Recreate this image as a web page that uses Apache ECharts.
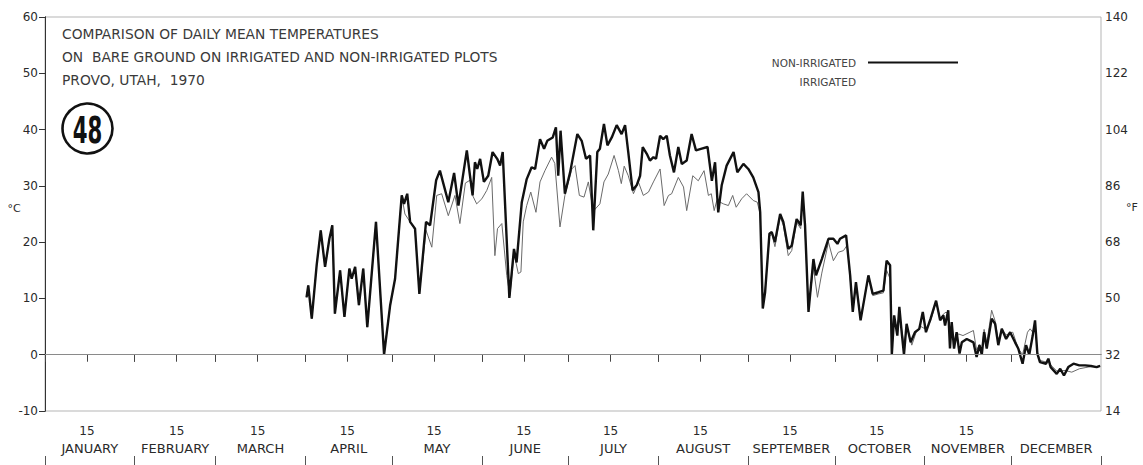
<!DOCTYPE html>
<html>
<head>
<meta charset="utf-8">
<script src="https://cdn.jsdelivr.net/npm/echarts@6/dist/echarts.min.js"></script>
<style>
html,body{margin:0;padding:0;background:#fff;}
#chart{width:1143px;height:465px;}
</style>
</head>
<body>
<div id="chart"></div>
<script>
// ---- categories / tick labels ----
const monthNames = ['JANUARY','FEBRUARY','MARCH','APRIL','MAY','JUNE','JULY','AUGUST','SEPTEMBER','OCTOBER','NOVEMBER','DECEMBER'];
const monthStarts = [0,31,59,90,120,151,181,212,243,273,304,334,365];
const monthMids = [15.5,45,74.5,105,135.5,166,196.5,227.5,258,288.5,319,349.5];
const fifteenths = [14.5,45.5,73.5,104.5,134.5,165.5,195.5,226.5,257.5,287.5,318.5];
const fifteenLabel = '15';
const celsiusTicks = [-10,0,10,20,30,40,50,60];
const fahrenheitLabels = ['14','32','50','68','86','104','122','140'];

// ---- series values: [day of year, °C] ----
const nonIrrigated = [[90.4,10.2],[91.0,12.3],[92.2,6.4],[93.9,15.9],[95.3,22.1],[96.8,15.6],[98.3,20.6],[99.3,23.0],[100.2,7.3],[102.0,15.0],[103.5,6.7],[105.2,15.3],[106.0,13.5],[107.2,15.6],[108.5,8.8],[110.0,15.3],[111.4,4.9],[114.4,23.6],[117.2,0.0],[119.3,8.8],[121.0,13.5],[123.3,28.3],[124.1,26.8],[125.2,28.6],[126.2,23.6],[127.9,22.4],[129.4,10.8],[131.7,23.6],[133.1,23.0],[135.2,31.0],[136.5,32.7],[139.4,27.1],[141.4,32.3],[142.9,26.5],[145.8,36.3],[146.9,31.8],[147.8,28.3],[148.6,34.2],[149.4,33.0],[150.4,34.8],[151.7,30.7],[153.2,31.8],[154.7,36.0],[156.3,34.8],[157.3,33.6],[158.2,36.0],[160.5,10.1],[162.1,18.8],[163.0,16.4],[164.8,27.1],[166.5,31.2],[168.2,33.3],[169.4,33.0],[171.1,38.3],[172.5,36.6],[173.6,38.0],[175.5,38.6],[176.6,40.4],[177.4,31.8],[178.2,39.8],[179.7,28.6],[181.5,32.4],[184.0,39.2],[185.5,38.0],[187.0,34.8],[188.4,35.4],[189.5,22.1],[190.9,36.0],[191.8,36.6],[193.2,41.0],[194.4,37.2],[195.9,38.6],[197.6,40.8],[199.3,39.2],[200.5,40.8],[201.6,36.0],[203.1,29.2],[204.5,30.1],[205.7,31.8],[206.6,36.9],[208.0,35.7],[209.1,34.5],[210.3,35.1],[211.2,34.8],[212.6,38.9],[213.7,38.3],[214.9,38.9],[216.0,35.4],[217.4,32.4],[218.9,36.9],[220.1,33.9],[221.8,34.5],[223.5,39.2],[225.0,36.3],[227.0,36.6],[229.0,36.9],[230.5,30.9],[231.6,34.2],[232.7,25.3],[233.9,30.1],[235.6,33.6],[238.0,36.0],[239.3,32.4],[241.4,33.9],[243.1,33.0],[244.8,31.5],[246.6,28.9],[247.2,25.3],[248.1,8.2],[248.9,11.1],[250.4,21.5],[251.2,21.8],[252.3,20.0],[254.1,25.0],[255.2,23.6],[256.9,18.8],[258.1,19.4],[259.8,24.1],[261.2,23.0],[261.9,29.0],[262.7,23.0],[263.9,7.6],[265.6,17.0],[266.5,14.1],[268.5,17.0],[270.8,20.6],[272.5,20.6],[273.9,19.7],[274.8,20.6],[276.9,21.2],[278.3,14.1],[279.2,7.6],[280.3,12.9],[281.9,6.1],[284.6,14.1],[286.1,10.8],[288.1,11.1],[289.8,11.4],[290.9,16.7],[292.1,15.9],[292.7,0.0],[293.5,7.0],[294.6,3.4],[295.3,8.5],[296.1,4.0],[296.9,0.0],[297.8,5.5],[299.2,2.2],[300.7,4.0],[302.2,4.6],[303.4,7.6],[304.5,4.0],[306.1,6.4],[308.0,9.6],[309.4,6.1],[310.5,7.0],[311.1,5.2],[312.2,7.9],[312.8,1.1],[313.4,5.8],[314.2,1.1],[315.1,4.0],[316.1,0.2],[316.9,2.2],[318.6,2.8],[320.9,2.2],[322.0,-0.4],[323.0,1.7],[323.8,0.0],[324.6,4.0],[325.5,1.1],[327.2,6.4],[328.4,5.5],[329.5,1.7],[330.7,4.6],[332.2,2.8],[333.6,4.0],[335.3,2.2],[336.4,1.1],[337.9,-1.6],[339.1,1.7],[340.2,0.0],[341.4,3.4],[342.2,6.1],[343.0,0.2],[343.9,-1.3],[346.0,-1.6],[346.8,-0.7],[347.6,-2.2],[349.7,-3.4],[350.9,-2.5],[352.2,-3.7],[353.7,-2.2],[355.5,-1.6],[357.5,-1.9],[359.5,-1.9],[361.5,-2.0],[363.5,-2.2],[364.7,-2.0]];

const irrigated = [[90.4,10.2],[91.0,12.3],[92.2,6.4],[93.9,15.9],[95.3,22.1],[96.8,15.6],[98.3,20.6],[99.3,23.0],[100.2,7.3],[102.0,15.0],[103.5,6.7],[105.2,15.3],[106.0,13.5],[107.2,15.6],[108.5,8.8],[110.0,15.3],[111.4,4.9],[114.4,23.6],[117.2,0.0],[119.3,8.8],[121.0,13.5],[123.3,28.3],[124.4,25.0],[126.2,23.6],[127.9,22.1],[129.4,10.8],[131.7,22.1],[133.7,19.1],[135.4,28.3],[137.1,28.6],[139.4,24.7],[141.7,28.3],[143.4,23.3],[145.3,30.5],[146.9,31.0],[147.8,28.3],[149.2,26.8],[151.0,27.7],[152.7,29.2],[154.4,31.5],[155.5,17.6],[156.4,22.4],[157.9,23.3],[159.6,14.1],[160.7,10.5],[162.1,18.0],[163.6,14.4],[164.5,14.7],[165.3,23.6],[166.5,26.5],[167.9,28.9],[169.7,25.3],[171.1,30.7],[172.8,32.7],[175.1,35.1],[176.2,34.0],[178.0,22.7],[179.7,28.3],[182.1,33.0],[183.2,33.6],[184.7,28.3],[186.3,28.0],[187.8,30.7],[189.5,25.5],[191.8,26.8],[193.2,30.7],[194.7,32.1],[196.7,35.4],[198.2,32.7],[199.2,30.4],[200.2,33.5],[201.6,31.8],[203.4,28.6],[205.1,30.7],[206.8,28.3],[208.6,28.9],[210.3,30.7],[212.6,33.0],[214.0,26.5],[215.5,28.3],[216.6,28.6],[218.9,31.5],[220.7,29.8],[221.8,25.6],[223.9,31.8],[225.8,30.9],[227.8,32.7],[229.3,28.3],[230.3,28.6],[231.3,25.6],[232.2,27.4],[234.5,26.8],[236.2,26.5],[237.7,28.3],[238.9,26.2],[240.8,27.7],[242.5,28.6],[244.8,27.4],[246.2,27.1],[247.2,25.0],[248.1,8.5],[248.9,11.5],[250.4,21.0],[251.2,21.5],[252.3,19.2],[254.1,24.5],[255.2,23.0],[256.9,17.6],[258.1,18.5],[259.8,23.5],[261.2,22.4],[261.9,27.5],[262.7,22.0],[263.9,8.0],[265.6,15.5],[267.0,10.2],[268.5,14.5],[270.8,20.0],[272.5,16.7],[274.2,18.2],[276.0,18.5],[277.3,19.5],[278.3,13.5],[279.2,8.0],[280.3,12.5],[281.9,6.5],[284.6,13.8],[286.1,10.5],[288.1,10.8],[289.8,11.0],[290.9,15.0],[292.1,13.5],[292.7,0.5],[293.5,6.5],[294.6,4.0],[295.3,8.0],[296.1,4.5],[297.0,1.5],[297.8,5.0],[299.6,1.7],[301.3,4.3],[302.8,5.0],[304.5,4.5],[306.1,6.0],[308.0,9.3],[309.4,6.5],[311.1,7.5],[312.2,7.5],[312.8,2.0],[313.4,5.5],[314.2,2.0],[315.7,3.7],[317.3,3.4],[319.7,4.0],[320.9,4.3],[322.0,0.8],[323.0,1.8],[323.8,0.8],[324.6,4.5],[325.5,2.0],[327.2,7.9],[328.4,6.0],[329.5,2.5],[330.7,4.6],[332.2,3.5],[334.5,4.0],[336.4,1.1],[337.9,0.0],[339.6,4.0],[340.5,4.6],[341.4,4.0],[342.2,5.5],[343.0,0.5],[343.9,-1.0],[346.0,-1.3],[346.8,-1.0],[347.6,-1.8],[349.7,-2.9],[352.6,-2.8],[354.9,-3.1],[357.5,-2.5],[359.5,-2.3],[361.5,-2.1],[363.5,-2.1],[364.7,-2.0]];

const titleLines = ['COMPARISON OF DAILY MEAN TEMPERATURES','ON  BARE GROUND ON IRRIGATED AND NON-IRRIGATED PLOTS','PROVO, UTAH,  1970'];
const plateNumber = '48';

// ---- chart ----
const FONT = 'DejaVu Sans';
const INK = '#2a2a2a';
const chart = echarts.init(document.getElementById('chart'), null, {renderer: 'svg'});

const tickDays = monthStarts.slice(0, 12).concat(fifteenths).sort((a, b) => a - b);

chart.setOption({
  animation: false,
  backgroundColor: '#fff',
  title: {
    text: titleLines.join('\n'),
    left: 62, top: 22, padding: 0,
    textStyle: {fontFamily: FONT, fontSize: 13.8, fontWeight: 'normal', color: '#3a3a3a', lineHeight: 23}
  },
  legend: [
    {
      data: [{name: 'NON-IRRIGATED', icon: 'rect'}],
      right: 185, top: 57, orient: 'vertical', align: 'right',
      itemWidth: 90, itemHeight: 2, itemGap: 8, padding: 0,
      textStyle: {fontFamily: FONT, fontSize: 10.5, color: '#444', padding: [0, 7, 0, 0]}
    },
    {
      data: [{name: 'IRRIGATED', icon: 'rect', itemStyle: {opacity: 0}, lineStyle: {opacity: 0}}],
      right: 185, top: 76, orient: 'vertical', align: 'right',
      itemWidth: 90, itemHeight: 2, padding: 0,
      textStyle: {fontFamily: FONT, fontSize: 10.5, color: '#444', padding: [0, 7, 0, 0]}
    }
  ],
  grid: {left: 45, right: 42, top: 17, bottom: 54, show: true, borderColor: '#b5b5b5', borderWidth: 1, backgroundColor: 'transparent'},
  xAxis: [
    {
      type: 'value', min: 0, max: 365, position: 'bottom',
      axisLine: {show: true, lineStyle: {color: '#555', width: 1}},
      axisTick: {show: true, customValues: tickDays, length: 7, lineStyle: {color: '#444'}},
      axisLabel: {customValues: fifteenths, formatter: () => fifteenLabel, margin: 14,
        fontFamily: FONT, fontSize: 12, color: INK},
      splitLine: {show: false}
    },
    {
      type: 'value', min: 0, max: 365, position: 'bottom', offset: 13,
      axisLine: {show: false},
      axisTick: {show: true, customValues: monthStarts.slice(0, 12), length: 7, lineStyle: {color: '#444'}},
      axisLabel: {customValues: monthMids, formatter: (v) => monthNames[monthMids.indexOf(v)] || '', margin: 18,
        fontFamily: FONT, fontSize: 13, color: INK},
      splitLine: {show: false}
    },
    {
      type: 'value', min: 0, max: 365, position: 'bottom', offset: 45,
      axisLine: {show: false},
      axisTick: {show: true, customValues: monthStarts, length: 9, lineStyle: {color: '#555'}},
      axisLabel: {show: false},
      splitLine: {show: false}
    }
  ],
  yAxis: [
    {
      type: 'value', min: -10, max: 60, interval: 10, position: 'left',
      axisLine: {show: true, lineStyle: {color: '#333', width: 1}},
      axisTick: {show: true, length: 5, lineStyle: {color: '#333'}},
      axisLabel: {margin: 7, fontFamily: FONT, fontSize: 12, color: INK},
      splitLine: {show: false}
    },
    {
      type: 'value', min: -10, max: 60, interval: 10, position: 'right',
      axisLine: {show: true, lineStyle: {color: '#333', width: 1}},
      axisTick: {show: true, inside: true, length: 6, lineStyle: {color: '#333'}},
      axisLabel: {margin: 4, fontFamily: FONT, fontSize: 12, color: INK,
        formatter: (v) => fahrenheitLabels[celsiusTicks.indexOf(v)]},
      splitLine: {show: false}
    }
  ],
  graphic: [
    {type: 'circle', shape: {cx: 87.5, cy: 128.5, r: 25}, style: {fill: 'none', stroke: '#111', lineWidth: 2.6}},
    {type: 'text', x: 87.5, y: 129, scaleX: 0.56, style: {text: plateNumber, fontFamily: FONT,
      fontWeight: 'bold', fontSize: 38, fill: '#111', align: 'center', verticalAlign: 'middle'}},
    {type: 'text', x: 14, y: 208, style: {text: '°C', fontFamily: FONT, fontSize: 11, fill: INK, align: 'center', verticalAlign: 'middle'}},
    {type: 'text', x: 1132, y: 207, style: {text: '°F', fontFamily: FONT, fontSize: 11, fill: INK, align: 'center', verticalAlign: 'middle'}}
  ],
  series: [
    {
      name: 'IRRIGATED', type: 'line', data: irrigated, xAxisIndex: 0, yAxisIndex: 0,
      showSymbol: false, symbol: 'none', z: 2,
      lineStyle: {color: '#6a6a6a', width: 1},
      itemStyle: {color: '#6a6a6a'},
      markLine: {silent: true, symbol: 'none', label: {show: false},
        lineStyle: {color: '#8a8a8a', width: 1, type: 'solid'}, data: [{yAxis: 0}]}
    },
    {
      name: 'NON-IRRIGATED', type: 'line', data: nonIrrigated, xAxisIndex: 0, yAxisIndex: 0,
      showSymbol: false, symbol: 'none', z: 3,
      lineStyle: {color: '#111', width: 2.4},
      itemStyle: {color: '#111'}
    }
  ]
});
</script>
</body>
</html>
